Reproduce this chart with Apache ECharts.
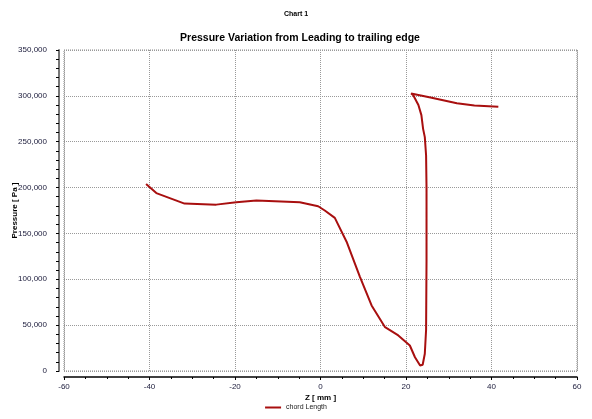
<!DOCTYPE html>
<html><head><meta charset="utf-8">
<script src="https://cdn.jsdelivr.net/npm/echarts@6/dist/echarts.min.js"></script>
<style>html,body{margin:0;padding:0;background:#fff}#c{width:592px;height:419px}</style>
</head><body><div id="c"></div>
<script>
// Z [mm] positions along the curve (in drawing order)
var zValues = [-40.8, -38.4, -31.8, -24.4, -19.7, -15.0, -4.85, -0.55, 1.0, 3.35, 6.1, 9.2, 11.95, 15.1, 18.2, 20.9, 22.1, 23.3, 23.9, 24.4, 24.7, 24.8, 24.8, 24.7, 24.4, 24.0, 23.6, 22.9, 21.7, 21.2, 26.0, 31.9, 36.0, 41.6];
// Pressure [Pa] values
var pressureValues = [204000, 194000, 182500, 181400, 184000, 186000, 184000, 179600, 175000, 167000, 141000, 103000, 71500, 47800, 38800, 27800, 15000, 6000, 6800, 18800, 45000, 120000, 200000, 235000, 255000, 264000, 279000, 290000, 300700, 302600, 298000, 292000, 289500, 288000];
var seriesName = 'chord Length';
var pageTitle = 'Chart 1';
var chartTitle = 'Pressure Variation from Leading to trailing edge';
var xName = 'Z [ mm ]';
var yName = 'Pressure [ Pa ]';

var pts = zValues.map(function(z, i){ return [z, pressureValues[i]]; });
var chart = echarts.init(document.getElementById('c'), null, {renderer:'canvas'});
var F = 'Liberation Sans, Arial, sans-serif';
chart.setOption({
  animation: false,
  title: [
    {text: pageTitle, left: 'center', top: 6, textStyle:{fontSize:7, fontWeight:'bold', color:'#000', fontFamily:F}},
    {text: chartTitle, left: 295, textAlign:'center', top: 28, textStyle:{fontSize:10.5, fontWeight:'bold', color:'#000', fontFamily:F}}
  ],
  legend: {data:[{name:seriesName, icon:'rect'}], bottom: 3, left: 'center', itemWidth: 16, itemHeight: 2,
    textStyle:{fontSize:7, color:'#222', fontFamily:F}},
  grid: {left: 64, right: 15, top: 50, bottom: 48, containLabel:false, outerBoundsMode:'none',
    show: true, borderColor:'#888', borderWidth:1, borderType:'dotted'},
  xAxis: {type:'value', min:-60, max:60, interval:20, offset:6,
    name: xName, nameLocation:'middle', nameGap:17, nameMoveOverlap:false,
    nameTextStyle:{fontSize:8, fontWeight:'bold', color:'#000', fontFamily:F},
    axisLine:{show:true, onZero:false, lineStyle:{color:'#000', width:1.5}},
    axisTick:{show:true, length:3, lineStyle:{color:'#000'}},
    minorTick:{show:true, splitNumber:4, length:2, lineStyle:{color:'#000'}},
    axisLabel:{fontSize:8, color:'#1a1a3a', margin:6, fontFamily:F},
    splitLine:{show:true, lineStyle:{color:'#999', type:'dotted', width:1}}},
  yAxis: {type:'value', min:0, max:350000, interval:50000, offset:5,
    name: yName, nameLocation:'middle', nameGap:40, nameMoveOverlap:false,
    nameTextStyle:{fontSize:8, fontWeight:'bold', color:'#000', fontFamily:F},
    axisLine:{show:true, onZero:false, lineStyle:{color:'#777', width:2}},
    axisTick:{show:true, length:3, lineStyle:{color:'#000'}},
    minorTick:{show:true, splitNumber:5, length:3, lineStyle:{color:'#000'}},
    axisLabel:{fontSize:8, color:'#1a1a3a', margin:12, fontFamily:F,
      formatter:function(v){ return v.toLocaleString('en-US'); }},
    splitLine:{show:true, lineStyle:{color:'#999', type:'dotted', width:1}}},
  series: [{name: seriesName, type:'line', data: pts, showSymbol:false, smooth:false,
    lineStyle:{color:'#a80f0f', width:2}, itemStyle:{color:'#a80f0f'}}]
});
</script></body></html>
